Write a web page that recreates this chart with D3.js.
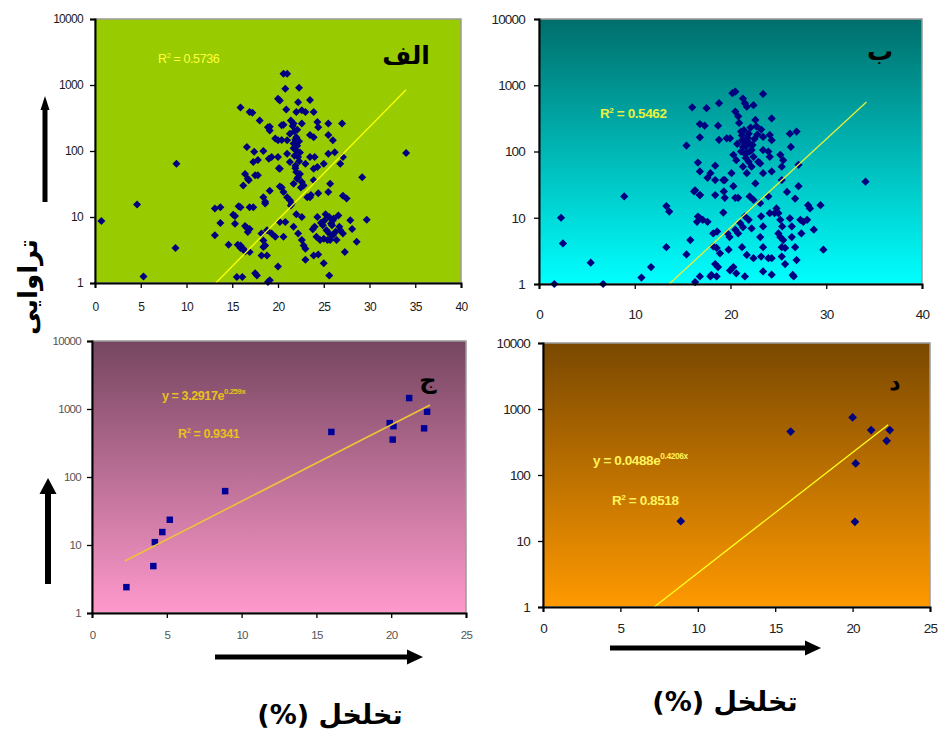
<!DOCTYPE html>
<html><head><meta charset="utf-8">
<script src="https://cdn.jsdelivr.net/npm/d3@7/dist/d3.min.js"></script>
<style>body{margin:0;background:#fff;overflow:hidden}</style>
</head><body><svg id="c" width="938" height="731"></svg>
<script>
// ---------- data ----------
const yTicks = [1, 10, 100, 1000, 10000];
const xTicksA = [0, 5, 10, 15, 20, 25, 30, 35, 40];
const xTicksB = [0, 10, 20, 30, 40];
const xTicksCD = [0, 5, 10, 15, 20, 25];

const pointsA = [
[0.7,8.7],[4.6,15.5],[8.9,64],[8.8,3.4],[5.3,1.25],[34,93],[29.2,40],[29.7,9.1],
[20.6,1480],[21.0,1480],[20.8,880],[22.3,910],[23.5,590],[20.0,620],[20.2,580],[22.2,550],[15.9,455],[16.9,390],[17.2,380],[18.0,290],
[20.9,425],[21.4,290],[21.7,260],[22.0,390],[22.6,415],[23.0,390],[23.9,390],[24.3,275],[25.5,260],[27.0,260],[18.9,230],[19.1,205],
[20.4,245],[20.6,250],[22.6,260],[24.4,230],[23.5,175],[23.9,162],[25.5,175],[19.7,155],[20.0,145],[21.0,145],[21.7,130],[26.0,145],
[16.6,115],[17.4,97],[18.4,100],[21.3,182],[22.0,162],[22.0,102],[22.2,81],[21.0,91],[19.0,76],[19.3,81],[20.0,81],[21.3,68],[23.5,81],
[24.0,81],[25.5,91],[27.1,81],[26.2,96],[17.3,68],[20.2,54],[21.9,60],[22.0,48],[23.0,64],[23.9,54],[24.3,57],[25.0,64],[26.8,64],
[16.4,45],[17.8,43],[16.8,36],[16.2,30],[22.2,40],[22.6,34],[22.8,30],[23.9,36],[19.1,25],[20.4,28],[20.6,24],[21.0,20],[23.5,20],
[24.4,23],[25.5,24],[25.7,32],[27.1,21],[27.5,19],[18.4,20],[18.6,17],[21.3,18],[13.1,13.4],[13.7,14],[15.9,14],[17.3,14],[18.6,16],
[21.5,16],[15.3,10.4],[13.7,8.1],[20.2,8.4],[20.8,8.4],[21.7,7.1],[22.0,11],[22.6,10],[24.3,10],[24.0,7.1],[25.1,8.9],[25.6,10],
[26.0,8.9],[26.6,10.5],[27.9,8.9],[28.1,6.6],[15.3,7.9],[16.9,6.6],[16.7,5.9],[13.1,5.3],[18.2,5.6],[18.8,6.3],[19.3,5.6],[19.7,5.0],
[20.6,5.0],[22.2,5.6],[22.6,4.5],[24.6,4.5],[25.0,4.7],[25.4,4.5],[25.7,4.5],[26.0,5.3],[26.4,4.5],[26.8,6.3],[27.1,5.6],[28.6,4.2],
[18.4,4.4],[18.6,3.7],[15.9,3.7],[16.2,3.3],[14.6,3.8],[16.9,2.95],[18.4,3.5],[22.8,3.7],[23.0,3.3],[27.3,2.95],[23.9,2.6],[24.4,2.7],
[18.2,2.6],[18.8,2.6],[23.0,2.25],[25.0,2.0],[20.0,1.78],[17.7,1.3],[15.5,1.23],[16.1,1.23],[25.6,1.3],[18.9,1.04],
[21.6,240],[21.8,200],[22.1,210],[21.9,150],[22.3,140],[21.7,110],[22.1,120],[22.4,95],[21.8,85],[22.3,70],[21.9,55],[22.4,45],
[22.1,38],[21.7,32],[22.5,28],[19.1,234],[20.4,147],[17.8,73],[20.1,55],[16.7,38],[17.5,43],[20.2,29],[21.4,15],[23.2,20],[23.6,21.5],
[24.9,7.5],[25.3,6.3],[25.9,7.5],[26.3,6.0],[25.6,5.6],[24.7,8.2],[26.1,9.5],[25.2,11],[26.7,7.1],[23.8,6.5],[24.2,5.0],[25.8,8.0],
[15.1,10.8],[15.7,14.6],[16.9,14],[16.4,7.3],[16.6,6.8],[15.6,3.8],[15.9,3.4],[16.4,3.0],[17.5,1.4],[19.1,1.1]
];

const pointsB = [
[1.6,1.0],[2.3,10],[2.5,4.1],[5.4,2.1],[6.7,1.0],[8.9,21],[10.7,1.25],[11.7,1.8],[13.3,15],[13.6,12.4],[13.3,3.6],[15.4,123],[15.4,2.8],
[15.8,4.6],[16.0,465],[16.2,25],[16.3,1.07],[16.6,68],[16.8,164],[16.8,260],[17.3,245],[16.8,50],[16.8,22],[16.5,8.7],[16.8,9.8],
[17.5,450],[17.6,40],[17.6,8.7],[17.9,47],[16.8,1.3],[17.9,1.3],[18.4,22],[18.4,61],[18.7,245],[18.8,535],[18.8,150],[18.2,5.8],
[18.6,6.2],[18.2,3.7],[18.4,2.0],[18.7,1.8],[18.55,1.3],[19.25,37],[19.3,25],[19.25,12],[19.7,5.8],[19.9,5.1],[19.8,3.3],[19.6,158],
[19.95,158],[20.2,760],[20.5,800],[20.5,400],[20.8,340],[20.3,89],[20.6,74],[20.1,47],[20.3,30],[20.5,20],[20.8,20],[20.5,6.6],
[20.8,5.8],[20.3,1.8],[20.6,1.45],[21.3,630],[21.5,535],[21.7,475],[22.4,500],[23.4,740],[21.2,148],[21.3,117],[21.5,93],[21.9,186],
[22.0,132],[22.2,105],[22.4,83],[22.6,300],[22.7,240],[21.3,59],[21.7,47],[22.2,59],[22.6,33],[22.0,21],[22.4,18.6],[21.5,10.5],
[21.9,9.3],[22.2,6.9],[21.2,3.6],[21.7,2.75],[22.4,2.45],[21.5,1.3],[23.2,214],[23.4,166],[23.4,105],[23.1,66],[23.4,47],[23.1,16.6],
[23.2,10.5],[23.4,7.4],[23.1,5.1],[23.4,3.6],[23.2,2.6],[23.4,1.55],[24.1,178],[24.3,148],[23.95,100],[24.1,83],[24.3,316],[23.95,21],
[24.3,50],[24.1,11.7],[24.6,11.7],[23.95,2.45],[24.3,2.45],[24.3,1.38],[25.2,89],[25.5,74],[25.35,59],[25.35,37],[24.8,13.8],[25.0,11.7],
[25.2,9.3],[25.4,7.4],[25.0,5.8],[25.2,5.1],[25.5,4.6],[25.35,3.6],[25.7,3.5],[25.35,2.6],[25.7,2.0],[26.2,186],[26.3,117],[25.9,24.5],
[26.2,9.8],[26.4,7.4],[26.4,5.1],[26.75,3.6],[26.6,1.3],[26.9,200],[27.1,63],[27.1,30],[26.75,19.5],[26.9,2.3],[27.3,9.3],[27.6,8.7],
[28.0,9.3],[27.4,5.8],[28.1,15.5],[28.3,13.8],[28.7,6.6],[29.4,15.5],[29.7,3.3],[34.1,35],
[21.2,175],[21.4,140],[21.6,120],[21.8,160],[22.0,100],[21.6,80],[21.9,70],[22.3,125],[21.1,200],[22.1,230],[21.4,210],[22.5,155],[21.7,95],
[16.3,26],[16.8,22],[16.6,10.4],[17.1,9.3],[18.4,37],[19.4,37],[19.4,20],[21.0,8.3],[21.3,7.2],[18.55,3.5],[18.9,2.9],[19.95,1.6],
[18.0,1.37],[26.5,1.37],[20.9,270],[21.1,100],[22.8,180],[22.9,70],[20.7,130]
];

const pointsC = [
[2.3,2.4],[4.1,4.9],[4.2,11],[4.7,15.5],[5.2,23.5],[8.9,62],[16.0,460],[19.9,620],[20.15,560],[20.1,355],[21.2,1450],[22.2,520],[22.4,910]
];

const pointsD = [
[8.9,20],[16.0,455],[20.0,745],[20.15,19.5],[20.2,150],[21.2,480],[22.2,330],[22.4,480]
];

// exponential trend lines y = a*e^(b x): [a, b, xStart, xEnd]
const trendA = [0.0139, 0.324, 13.2, 34.0];
const trendB = [0.01537, 0.307, 13.6, 34.2];
const trendC = [3.2917, 0.259, 2.2, 22.6];
const trendD = [0.0488, 0.4206, 7.18, 22.3];

const r2A = "0.5736", r2B = "0.5462", r2C = "0.9341", r2D = "0.8518";
const eqC = ["y = 3.2917e", "0.259x"];
const eqD = ["y = 0.0488e", "0.4206x"];
const titles = ["الف", "ب", "ج", "د"];
const yLabel = "تراوایی";
const xLabel = "تخلخل (%)";

// ---------- drawing ----------
const svg = d3.select("#c");
const defs = svg.append("defs");
function grad(id, top, bottom){
  const g = defs.append("linearGradient").attr("id", id).attr("x1",0).attr("y1",0).attr("x2",0).attr("y2",1);
  g.append("stop").attr("offset","0%").attr("stop-color",top);
  g.append("stop").attr("offset","100%").attr("stop-color",bottom);
}
grad("gB", "#006E6B", "#00FFFF");
grad("gC", "#764660", "#FF99CC");
grad("gD", "#7A4800", "#FF9900");

const panels = [
 {pts:pointsA, trend:trendA, xMax:40, xTicks:xTicksA, l:95, t:19, r:461, b:283, fill:"#99CC00",
  sym:"diamond", msize:32, mcol:"#000080", tcol:"#FFFF00", tw:1.3,
  fs:12, ls:-0.7, tickCol:"#1a1a1a", yPad:7, xPad:14},
 {pts:pointsB, trend:trendB, xMax:40, xTicks:xTicksB, l:539, t:19, r:922, b:284, fill:"url(#gB)",
  sym:"diamond", msize:34, mcol:"#000080", tcol:"#E8F03A", tw:1.3,
  fs:13.5, ls:-0.8, tickCol:"#222", yPad:9, xPad:20},
 {pts:pointsC, trend:trendC, xMax:25, xTicks:xTicksCD, l:92, t:341, r:466, b:613, fill:"url(#gC)",
  sym:"square", msize:42, mcol:"#000099", tcol:"#EDC23A", tw:1.6,
  fs:11.5, ls:-0.7, tickCol:"#555", yPad:6, xPad:13},
 {pts:pointsD, trend:trendD, xMax:25, xTicks:xTicksCD, l:543, t:343, r:930, b:607, fill:"url(#gD)",
  sym:"diamond", msize:38, mcol:"#000080", tcol:"#FFFF1A", tw:1.3,
  fs:13.5, ls:-0.8, tickCol:"#222", yPad:8, xPad:11}
];

panels.forEach(p => {
  const g = svg.append("g");
  const x = d3.scaleLinear().domain([0, p.xMax]).range([p.l, p.r]);
  const y = d3.scaleLog().domain([1, 10000]).range([p.b, p.t]);
  g.append("rect").attr("x", p.l).attr("y", p.t).attr("width", p.r - p.l).attr("height", p.b - p.t)
    .attr("fill", p.fill).attr("stroke", "#9a9a9a").attr("stroke-width", 1.5);

  // points
  const sym = d3.symbol().type(d3.symbolSquare).size(p.msize);
  g.selectAll("path.pt").data(p.pts).join("path").attr("class","pt")
    .attr("d", sym)
    .attr("transform", d => `translate(${x(d[0])},${y(d[1])})` + (p.sym === "diamond" ? " rotate(45)" : ""))
    .attr("fill", p.mcol);

  // trend line
  const [a, bb, x0, x1] = p.trend;
  const tl = [[x0, a*Math.exp(bb*x0)], [x1, a*Math.exp(bb*x1)]];
  g.append("path").attr("d", d3.line().x(d => x(d[0])).y(d => y(d[1]))(tl))
    .attr("stroke", p.tcol).attr("stroke-width", p.tw).attr("fill", "none");

  // axes
  const ya = d3.axisLeft(y).tickValues(yTicks).tickFormat(d3.format("d")).tickSize(5).tickPadding(p.yPad);
  const xa = d3.axisBottom(x).tickValues(p.xTicks).tickFormat(d3.format("d")).tickSize(5).tickPadding(p.xPad);
  [g.append("g").attr("transform", `translate(${p.l},0)`).call(ya),
   g.append("g").attr("transform", `translate(0,${p.b})`).call(xa)].forEach(ax => {
    ax.select(".domain").attr("stroke", "#000").attr("stroke-width", 2);
    ax.selectAll(".tick line").attr("stroke", "#000").attr("stroke-width", 1.3);
    ax.selectAll("text").attr("font-family", "Liberation Sans, Arial, sans-serif")
      .attr("font-size", p.fs).attr("letter-spacing", p.ls).attr("fill", p.tickCol);
  });
});

// R² and equation labels
function r2(xp, yp, val, col, fs, bold){
  const t = svg.append("text").attr("x", xp).attr("y", yp).attr("fill", col)
    .attr("font-family", "Liberation Sans, Arial, sans-serif").attr("font-size", fs)
    .attr("font-weight", bold ? "bold" : "normal").attr("letter-spacing", -0.4);
  t.append("tspan").text("R");
  t.append("tspan").attr("dy", -5).attr("font-size", fs*0.6).text("2");
  t.append("tspan").attr("dy", 5).text(" = " + val);
}
function eq(xp, yp, parts, col, fs){
  const t = svg.append("text").attr("x", xp).attr("y", yp).attr("fill", col)
    .attr("font-family", "Liberation Sans, Arial, sans-serif").attr("font-size", fs)
    .attr("font-weight", "bold").attr("letter-spacing", -0.4);
  t.append("tspan").text(parts[0]);
  t.append("tspan").attr("dy", -6).attr("font-size", fs*0.62).text(parts[1]);
}
r2(158, 63, r2A, "#FFFF40", 12.5, false);
r2(600, 118, r2B, "#E6F23C", 13.5, true);
eq(162, 400, eqC, "#E8C020", 12.5);
r2(178, 438, r2C, "#E8C020", 12.5, true);
eq(593, 465, eqD, "#FFF35A", 13.5);
r2(612, 505, r2D, "#FFF35A", 13.5, true);

// panel titles
const titlePos = [[406, 64, 25], [880, 60, 26], [428, 388, 24], [895, 390, 22]];
titles.forEach((tt, i) => {
  svg.append("text").attr("x", titlePos[i][0]).attr("y", titlePos[i][1]).attr("text-anchor", "middle")
    .attr("font-family", "DejaVu Sans, sans-serif").attr("font-weight", "bold").attr("font-size", titlePos[i][2])
    .attr("fill", "#000").text(tt);
});

// axis titles
svg.append("text").attr("transform", "translate(37,287) rotate(-90)").attr("text-anchor", "middle")
  .attr("direction", "rtl").attr("font-family", "DejaVu Sans, sans-serif").attr("font-weight", "bold")
  .attr("font-size", 26).attr("fill", "#000").text(yLabel);
[[330, 724], [725, 711]].forEach(pos => {
  svg.append("text").attr("x", pos[0]).attr("y", pos[1]).attr("text-anchor", "middle")
    .attr("direction", "rtl").attr("font-family", "DejaVu Sans, sans-serif").attr("font-weight", "bold")
    .attr("font-size", 27).attr("fill", "#000").text(xLabel);
});

// arrows
function arrow(x1, y1, x2, y2, w, hl, hw){
  const ang = Math.atan2(y2 - y1, x2 - x1);
  const bx = x2 - hl*Math.cos(ang), by = y2 - hl*Math.sin(ang);
  svg.append("line").attr("x1", x1).attr("y1", y1).attr("x2", bx).attr("y2", by)
    .attr("stroke", "#000").attr("stroke-width", w);
  const px = -Math.sin(ang)*hw/2, py = Math.cos(ang)*hw/2;
  svg.append("path").attr("d", `M${x2},${y2}L${bx+px},${by+py}L${bx-px},${by-py}Z`).attr("fill", "#000");
}
arrow(45, 202, 45, 96, 5, 14, 9);
arrow(48, 584, 48, 478, 6, 16, 17);
arrow(215, 657, 423, 657, 5, 16, 15);
arrow(610, 648, 821, 648, 5, 16, 15);
</script></body></html>
